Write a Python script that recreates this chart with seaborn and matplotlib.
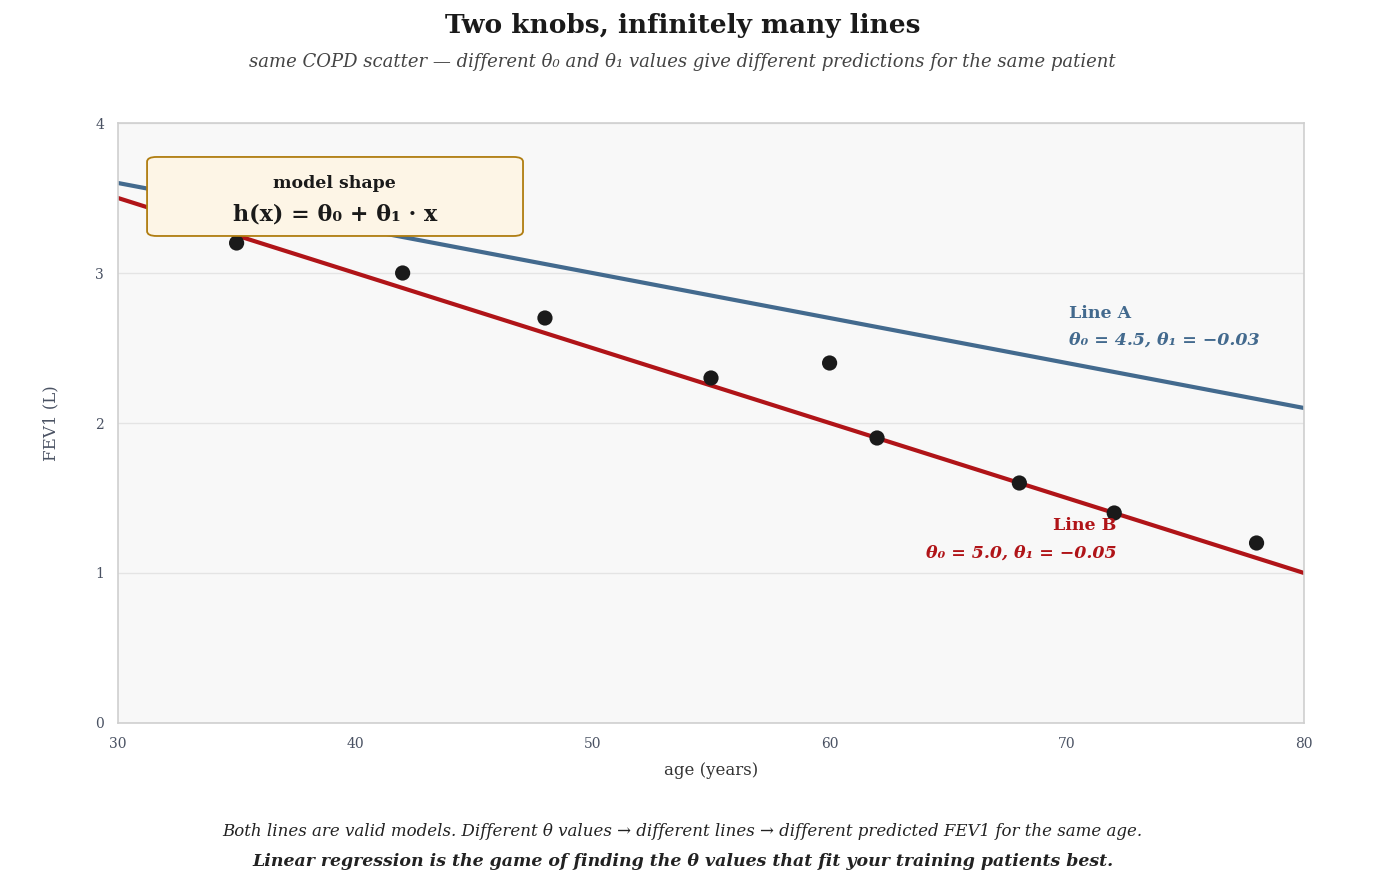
import numpy as np
import pandas as pd
import matplotlib
matplotlib.use("Agg")
import matplotlib.pyplot as plt
import seaborn as sns
from matplotlib.patches import FancyBboxPatch

# COPD scatter: age vs FEV1
ages = [35, 42, 48, 55, 60, 62, 68, 72, 78]
fev1 = [3.2, 3.0, 2.7, 2.3, 2.4, 1.9, 1.6, 1.4, 1.2]

# two candidate lines
theta_a = (4.5, -0.03)
theta_b = (5.0, -0.05)
x_range = [30, 80]

sns.set_style("white")
plt.rcParams['font.family'] = ['DejaVu Serif', 'DejaVu Sans']

blue = '#436a8e'
red = '#b01418'
ink = '#1a1a1a'
axis_ink = '#4a5263'

fig = plt.figure(figsize=(14, 8.88), dpi=100)
ax = fig.add_axes([118 / 1400, 1 - 723 / 888, (1304 - 118) / 1400, (723 - 123) / 888])
ax.set_facecolor('#f8f8f8')

xs = np.array(x_range, dtype=float)
line_df = pd.DataFrame({
    'age': np.concatenate([xs, xs]),
    'fev1': np.concatenate([theta_a[0] + theta_a[1] * xs, theta_b[0] + theta_b[1] * xs]),
    'line': ['A', 'A', 'B', 'B'],
})
sns.lineplot(data=line_df, x='age', y='fev1', hue='line', palette={'A': blue, 'B': red},
             lw=3, legend=False, ax=ax, zorder=2)

pts = pd.DataFrame({'age': ages, 'fev1': fev1})
sns.scatterplot(data=pts, x='age', y='fev1', color=ink, s=120, edgecolor='none', ax=ax, zorder=3)

ax.set_xlim(30, 80)
ax.set_ylim(0, 4)
ax.set_xticks([30, 40, 50, 60, 70, 80])
ax.set_yticks([0, 1, 2, 3, 4])
ax.yaxis.grid(True, color='#e4e4e4', lw=1)
ax.set_axisbelow(True)
ax.tick_params(length=0, labelsize=10, colors=axis_ink, pad=10)
for s in ax.spines.values():
    s.set_color('#cfcfcf')
    s.set_linewidth(1.2)
ax.set_xlabel('age (years)', fontsize=12, color='#333333', labelpad=8)
ax.set_ylabel('FEV1 (L)', fontsize=12, color=axis_ink, labelpad=26)

# model shape box
box = FancyBboxPatch((0.0245, 0.8117), 0.317, 0.1317, transform=ax.transAxes,
                     boxstyle='round,pad=0,rounding_size=0.008',
                     facecolor='#fdf5e6', edgecolor='#b07d10', lw=1.3, zorder=5)
ax.add_patch(box)
ax.text(0.1829, 0.9, 'model shape', transform=ax.transAxes, ha='center', va='center',
        fontsize=12.5, fontweight='bold', color=ink, zorder=6)
ax.text(0.1829, 0.848, 'h(x) = θ₀ + θ₁ · x', transform=ax.transAxes, ha='center', va='center',
        fontsize=16, fontweight='bold', color=ink, zorder=6)

# line labels
ax.text(70.1, 2.73, 'Line A', ha='left', va='center', fontsize=12.5, fontweight='bold', color=blue)
ax.text(70.1, 2.55, 'θ₀ = 4.5, θ₁ = −0.03', ha='left', va='center', fontsize=12.5,
        fontweight='bold', style='italic', color=blue)
ax.text(72.1, 1.32, 'Line B', ha='right', va='center', fontsize=12.5, fontweight='bold', color=red)
ax.text(72.1, 1.13, 'θ₀ = 5.0, θ₁ = −0.05', ha='right', va='center', fontsize=12.5,
        fontweight='bold', style='italic', color=red)

fig.text(0.4875, 0.971, 'Two knobs, infinitely many lines', ha='center', va='center',
         fontsize=19, fontweight='bold', color=ink)
fig.text(0.4875, 0.93, 'same COPD scatter — different θ₀ and θ₁ values give different predictions for the same patient',
         ha='center', va='center', fontsize=13, style='italic', color='#444444')
fig.text(0.4875, 0.064, 'Both lines are valid models. Different θ values → different lines → different predicted FEV1 for the same age.',
         ha='center', va='center', fontsize=12, style='italic', color='#222222')
fig.text(0.4875, 0.030, 'Linear regression is the game of finding the θ values that fit your training patients best.',
         ha='center', va='center', fontsize=12.5, style='italic', fontweight='bold', color='#222222')

fig.savefig('out.png', dpi=100)
